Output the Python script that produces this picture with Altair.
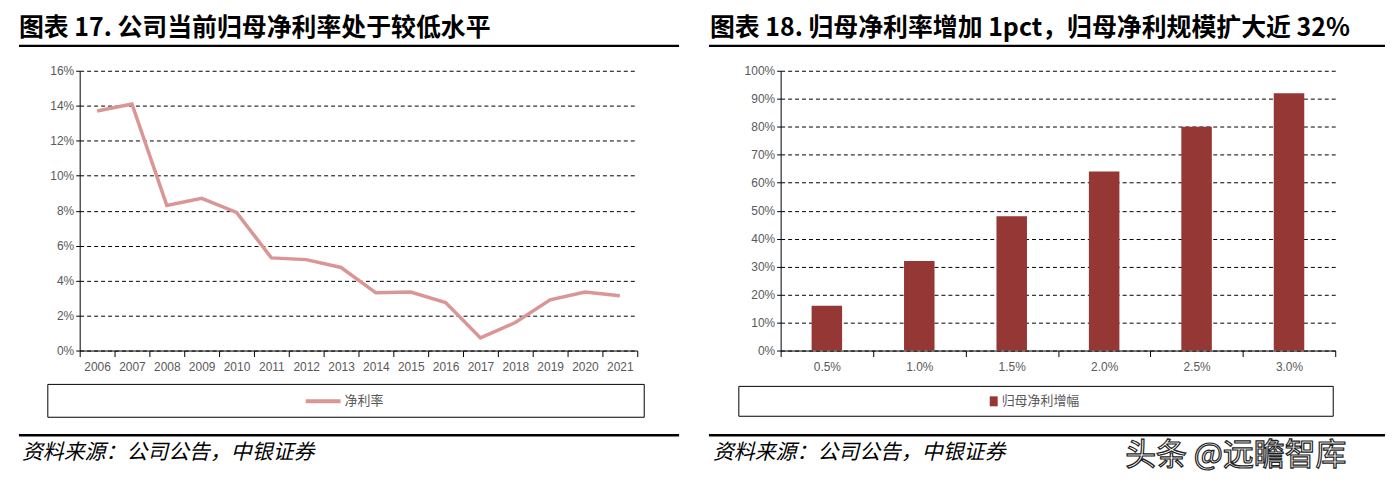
import altair as alt
import pandas as pd

# ---------------- data ----------------
years = ["2006", "2007", "2008", "2009", "2010", "2011", "2012", "2013",
         "2014", "2015", "2016", "2017", "2018", "2019", "2020", "2021"]
net_margin = [13.7, 14.1, 8.3, 8.7, 7.9, 5.3, 5.2, 4.75,
              3.3, 3.35, 2.75, 0.72, 1.6, 2.9, 3.35, 3.13]

bar_cats = ["0.5%", "1.0%", "1.5%", "2.0%", "2.5%", "3.0%"]
bar_vals = [16, 32, 48, 64, 80, 92]

left_title = "图表 17. 公司当前归母净利率处于较低水平"
right_title = "图表 18. 归母净利率增加 1pct，归母净利规模扩大近 32%"
source_text = "资料来源：公司公告，中银证券"
line_legend = "净利率"
bar_legend = "归母净利增幅"
watermark = "头条 @远瞻智库"

line_ticks = [0, 2, 4, 6, 8, 10, 12, 14, 16]
bar_ticks = [0, 10, 20, 30, 40, 50, 60, 70, 80, 90, 100]

# ---------------- style ----------------
CJK = "Noto Sans CJK SC"
NUM = "Liberation Sans Narrow, Liberation Sans, Arial"
LINE_COLOR = "#D99694"
BAR_COLOR = "#953735"
LABEL_COLOR = "#595959"

line_df = pd.DataFrame({"year": years, "margin": net_margin})
bar_df = pd.DataFrame({"cat": bar_cats, "val": bar_vals})
one = alt.Data(values=[{"k": 0}])

W1, W2, H = 560, 557, 281


def y_axis(vals):
    return alt.Axis(values=vals, labelExpr="datum.value + '%'", grid=True,
                    gridDash=[4, 3], gridColor="#000", gridWidth=1,
                    domainColor="#000", tickColor="#000", tickSize=4,
                    labelColor=LABEL_COLOR, labelFont=NUM, labelFontSize=12,
                    labelPadding=2, title=None)


def x_axis():
    return alt.Axis(tickBand="extent", labelAngle=0, domainColor="#000",
                    tickColor="#000", tickSize=6, labelColor=LABEL_COLOR,
                    labelFont=NUM, labelFontSize=12, labelPadding=5,
                    grid=False, title=None)


def txt(x, y, s, size, **kw):
    return alt.Chart(one).mark_text(align="left", baseline="middle",
                                    fontSize=size, **kw).encode(
        x=alt.value(x), y=alt.value(y), text=alt.value(s))


def hrule(x1, x2, y, w=2, color="#000"):
    return alt.Chart(one).mark_rule(color=color, strokeWidth=w).encode(
        x=alt.value(x1), x2=alt.value(x2), y=alt.value(y))


def box(x1, x2, y1, y2):
    return alt.Chart(one).mark_rect(fillOpacity=0, stroke="#000",
                                    strokeWidth=1).encode(
        x=alt.value(x1), x2=alt.value(x2), y=alt.value(y1), y2=alt.value(y2))


# ---------------- left panel ----------------
line = alt.Chart(line_df).mark_line(color=LINE_COLOR, strokeWidth=3.5).encode(
    x=alt.X("year:O", sort=years,
            scale=alt.Scale(type="band", paddingInner=0, paddingOuter=0),
            axis=x_axis()),
    y=alt.Y("margin:Q", scale=alt.Scale(domain=[0, 16]), axis=y_axis(line_ticks)),
)

left = alt.layer(
    line,
    txt(-61, -43, left_title, 25, font=CJK, fontWeight="bold", color="#000"),
    hrule(-61, 602, -25, 2.5),
    box(-32, 567, 315, 348),
    hrule(227, 262, 332, 4, LINE_COLOR),
    txt(266, 332, line_legend, 13, font=CJK, color=LABEL_COLOR),
    hrule(-61, 602, 366, 2.5),
    txt(-58, 384, source_text, 21, font=CJK, fontStyle="italic", color="#000"),
).properties(width=W1, height=H)

# ---------------- right panel ----------------
bars = alt.Chart(bar_df).mark_bar(color=BAR_COLOR, width=alt.RelativeBandSize(0.33)).encode(
    x=alt.X("cat:O", sort=bar_cats,
            scale=alt.Scale(type="band", paddingInner=0, paddingOuter=0),
            axis=x_axis()),
    y=alt.Y("val:Q", scale=alt.Scale(domain=[0, 100]), axis=y_axis(bar_ticks)),
)

swatch = alt.Chart(one).mark_rect(color=BAR_COLOR).encode(
    x=alt.value(210), x2=alt.value(218), y=alt.value(327), y2=alt.value(337))

right = alt.layer(
    bars,
    txt(-71, -43, right_title, 25, font=CJK, fontWeight="bold", color="#000"),
    hrule(-72, 607, -25, 2.5),
    box(-42, 555, 317, 347),
    swatch,
    txt(222, 332, bar_legend, 13, font=CJK, color=LABEL_COLOR),
    hrule(-72, 607, 366, 2.5),
    txt(-68, 384, source_text, 21, font=CJK, fontStyle="italic", color="#000"),
    txt(346, 387, watermark, 31, font=CJK, color="#ffffff", stroke="#222",
        strokeWidth=1.2),
).properties(width=W2, height=H)

chart = alt.hconcat(left, right, spacing=26).properties(
    padding={"left": 9, "top": 7, "right": 0, "bottom": 12},
    background="white",
).configure_view(strokeWidth=0)

chart.save("out.html", embed_options={"renderer": "svg", "actions": False})
